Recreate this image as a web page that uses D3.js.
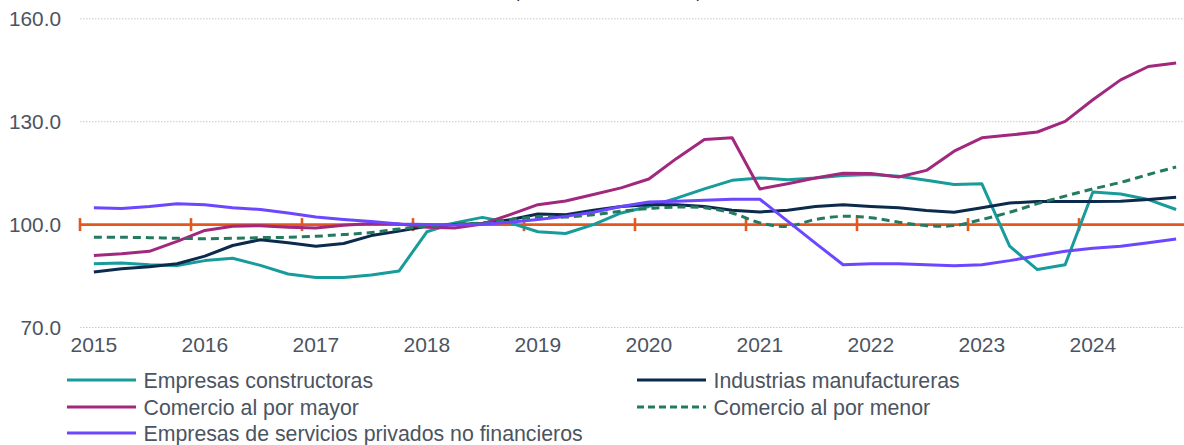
<!DOCTYPE html>
<html>
<head>
<meta charset="utf-8">
<script src="https://cdn.jsdelivr.net/npm/d3@7"></script>
<style>
  html, body { margin: 0; padding: 0; background: #fff; }
  svg { display: block; font-family: 'Liberation Sans', Arial, sans-serif; }
</style>
</head>
<body>
<svg id="chart" width="1184" height="445"></svg>
<script>
// quarterly index, 2015 Q1 .. 2024 Q4
const years = ['2015', '2016', '2017', '2018', '2019', '2020', '2021', '2022', '2023', '2024'];
const yTicks = [70, 100, 130, 160];
const baseLevel = 100;

const constructoras = [
  88.6, 88.8, 88.3, 88.1, 89.5, 90.2, 88.1, 85.6, 84.6, 84.6,
  85.3, 86.5, 97.9, 100.5, 102.1, 100.5, 97.9, 97.4, 100.0, 103.4,
  105.3, 107.7, 110.4, 112.9, 113.6, 113.1, 113.6, 114.3, 114.6, 114.1,
  112.9, 111.7, 111.9, 93.7, 86.9, 88.3, 109.5, 108.9, 107.3, 104.4,
];
const manufactureras = [
  86.2, 87.1, 87.7, 88.6, 90.8, 93.9, 95.6, 94.7, 93.7, 94.5,
  96.8, 98.1, 99.5, 100.0, 100.3, 101.4, 103.1, 102.9, 104.2, 105.3,
  105.8, 105.8, 105.3, 104.2, 103.7, 104.2, 105.3, 105.8, 105.3, 104.9,
  104.1, 103.6, 104.9, 106.3, 106.7, 106.7, 106.7, 106.8, 107.3, 108.0,
];
const porMayor = [
  91.0, 91.5, 92.2, 95.1, 98.3, 99.5, 99.7, 99.2, 99.0, 99.8,
  100.3, 100.2, 99.2, 99.0, 100.2, 102.9, 105.8, 106.9, 108.8, 110.7,
  113.3, 119.3, 124.8, 125.3, 110.4, 111.9, 113.6, 115.0, 114.9, 113.9,
  115.8, 121.4, 125.3, 126.1, 127.0, 130.1, 136.4, 142.2, 146.1, 147.1,
];
const porMenor = [
  96.3, 96.3, 96.2, 96.0, 95.9, 96.0, 96.2, 96.3, 96.6, 97.1,
  97.7, 98.7, 99.5, 100.2, 100.5, 101.5, 102.2, 102.2, 102.9, 103.9,
  104.7, 105.1, 104.9, 103.4, 100.5, 99.5, 101.5, 102.4, 102.0, 100.7,
  99.7, 99.7, 101.5, 103.6, 106.1, 108.3, 110.4, 112.3, 114.6, 116.8,
];
const servicios = [
  104.9, 104.7, 105.3, 106.1, 105.8, 104.9, 104.4, 103.4, 102.2, 101.5,
  100.9, 100.2, 100.0, 99.9, 100.1, 100.7, 101.5, 102.4, 103.6, 105.3,
  106.6, 106.8, 107.1, 107.4, 107.4, 101.0, 94.6, 88.3, 88.6, 88.6,
  88.3, 88.0, 88.3, 89.5, 90.9, 92.2, 93.1, 93.7, 94.7, 95.8,
];

const series = [
  { name: 'Empresas constructoras', values: constructoras, color: '#189b9b', dash: null, smooth: false },
  { name: 'Industrias manufactureras', values: manufactureras, color: '#0c2a4c', dash: null, smooth: false },
  { name: 'Comercio al por mayor', values: porMayor, color: '#a1287d', dash: null, smooth: false },
  { name: 'Comercio al por menor', values: porMenor, color: '#237a5f', dash: '8,5', smooth: true },
  { name: 'Empresas de servicios privados no financieros', values: servicios, color: '#6c47ff', dash: null, smooth: false },
];

const quarters = [];
years.forEach((y) => ['T1', 'T2', 'T3', 'T4'].forEach((q) => quarters.push(`${y}-${q}`)));

const width = 1184;
const svg = d3.select('#chart');
const textColor = '#4b5461';

const x = d3.scaleBand().domain(quarters).range([80, 1190]).padding(0);
const y = d3.scaleLinear().domain([70, 160]).range([327.5, 18.8]);
const xc = (q) => x(q) + x.bandwidth() / 2;

// title, only the bottom of it shows at the top edge
svg.append('text')
  .attr('x', 608)
  .attr('y', -2)
  .attr('text-anchor', 'middle')
  .attr('font-size', 17)
  .attr('fill', '#222')
  .text('(Índice base 2018 = 100)');

// gridlines
svg.append('g')
  .selectAll('line')
  .data(yTicks)
  .join('line')
    .attr('x1', 80)
    .attr('x2', width)
    .attr('y1', (d) => y(d))
    .attr('y2', (d) => y(d))
    .attr('stroke', '#c9c9c9')
    .attr('stroke-width', 1)
    .attr('stroke-dasharray', '1.5,1.5');

// y labels
svg.append('g')
  .selectAll('text')
  .data(yTicks)
  .join('text')
    .attr('x', 61)
    .attr('y', (d) => y(d))
    .attr('dy', '0.36em')
    .attr('text-anchor', 'end')
    .attr('font-size', 20.8)
    .attr('fill', textColor)
    .text((d) => d3.format('.1f')(d));

// x labels on first quarter of each year
svg.append('g')
  .selectAll('text')
  .data(years)
  .join('text')
    .attr('x', (d) => xc(`${d}-T1`))
    .attr('y', 352)
    .attr('text-anchor', 'middle')
    .attr('font-size', 21)
    .attr('fill', textColor)
    .text((d) => d);

// category axis crossing at 100
const axis = svg.append('g').attr('stroke', '#e2581f').attr('stroke-width', 2.6);
axis.append('line')
  .attr('x1', 80)
  .attr('x2', width)
  .attr('y1', y(baseLevel))
  .attr('y2', y(baseLevel));
axis.selectAll('.tick')
  .data(years)
  .join('line')
    .attr('class', 'tick')
    .attr('x1', (d) => x(`${d}-T1`))
    .attr('x2', (d) => x(`${d}-T1`))
    .attr('y1', y(baseLevel) - 6.5)
    .attr('y2', y(baseLevel) + 6.5);

// series lines
series.forEach((s) => {
  const line = d3.line()
    .x((d, i) => xc(quarters[i]))
    .y((d) => y(d))
    .curve(s.smooth ? d3.curveCatmullRom.alpha(0.5) : d3.curveLinear);
  svg.append('path')
    .datum(s.values)
    .attr('d', line)
    .attr('fill', 'none')
    .attr('stroke', s.color)
    .attr('stroke-width', 3)
    .attr('stroke-linejoin', 'round')
    .attr('stroke-dasharray', s.dash);
});

// legend
const legendPos = [
  [67, 380], [637, 380],
  [67, 407], [637, 407],
  [67, 433],
];
const legend = svg.append('g')
  .selectAll('g')
  .data(series)
  .join('g')
    .attr('transform', (d, i) => `translate(${legendPos[i][0]},${legendPos[i][1]})`);
legend.append('line')
  .attr('x1', 0)
  .attr('x2', 69)
  .attr('stroke', (d) => d.color)
  .attr('stroke-width', 3.2)
  .attr('stroke-dasharray', (d) => (d.dash ? '7,4' : null));
legend.append('text')
  .attr('x', 76.5)
  .attr('dy', '0.36em')
  .attr('font-size', 21.3)
  .attr('fill', textColor)
  .text((d) => d.name);
</script>
</body>
</html>
